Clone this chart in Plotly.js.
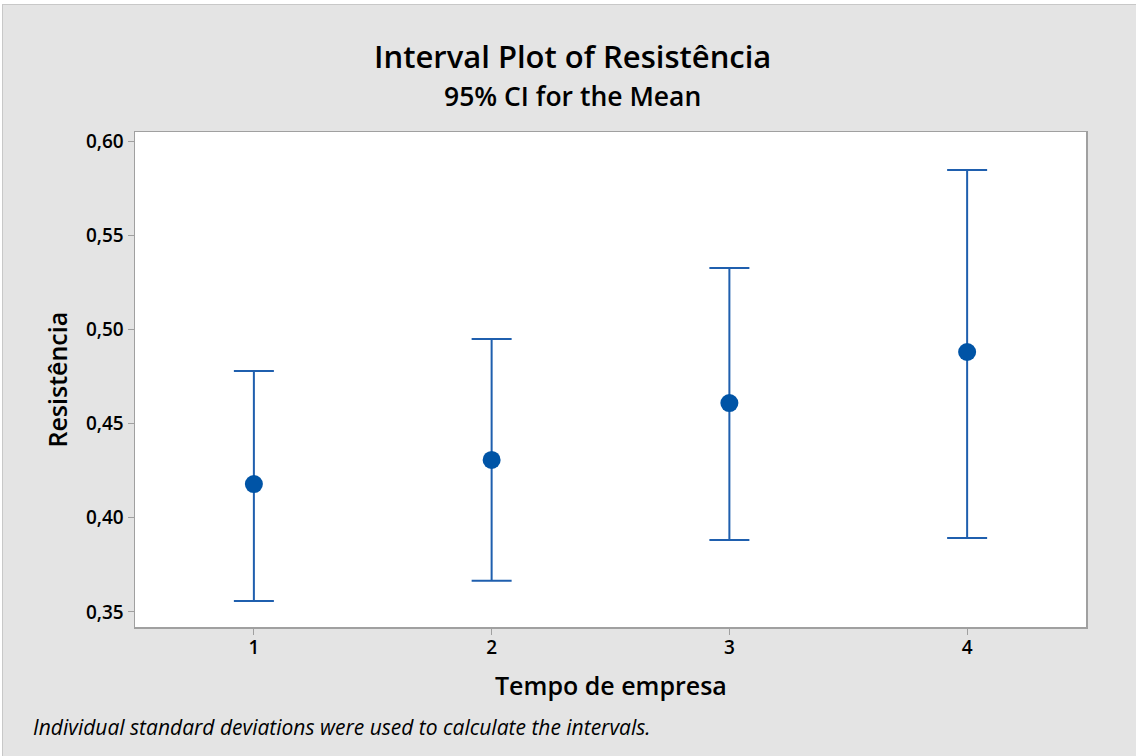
<!DOCTYPE html>
<html><head><meta charset="utf-8">
<script src="https://cdn.plot.ly/plotly-3.0.1.min.js"></script>
<style>
html,body{margin:0;padding:0;background:#fff;}
#chart{position:absolute;left:3px;top:5px;width:1133px;height:751px;}
#frame{position:absolute;left:2px;top:4px;width:1134px;height:752px;border-left:1px solid #c8c8c8;border-top:2px solid #c8c8c8;box-sizing:border-box;}
</style></head>
<body>
<div id="frame"></div>
<div id="chart"></div>
<script>
const categories = [1, 2, 3, 4];
const means = [0.4179, 0.4307, 0.4609, 0.4880];
const upper = [0.4779, 0.4949, 0.5326, 0.5846];
const lower = [0.3558, 0.3665, 0.3882, 0.3893];
const yTicks = [0.35, 0.40, 0.45, 0.50, 0.55, 0.60];

const errPlus = upper.map((u, i) => u - means[i]);
const errMinus = lower.map((l, i) => means[i] - l);

const font = '"Open Sans", "Noto Sans", sans-serif';

const trace = {
  type: 'scatter', mode: 'markers',
  x: categories, y: means,
  marker: {color: '#0054a6', size: 18},
  error_y: {type: 'data', symmetric: false, array: errPlus, arrayminus: errMinus,
            color: '#1f5fae', thickness: 2, width: 20},
  hoverinfo: 'x+y'
};

const tickFont = {family: font, size: 19, color: '#000', weight: 600};

const layout = {
  width: 1133, height: 751,
  paper_bgcolor: '#e4e4e4', plot_bgcolor: '#ffffff',
  margin: {l: 132, r: 50, t: 127, b: 129},
  separators: ',.',
  showlegend: false,
  font: {family: font, color: '#000'},
  xaxis: {
    range: [0.5, 4.5], tickvals: categories, ticktext: categories.map(String),
    showgrid: false, zeroline: false,
    showline: true, mirror: true, linecolor: '#a0a0a0', linewidth: 1.5,
    ticks: 'outside', ticklen: 6, tickcolor: '#a0a0a0', tickwidth: 1,
    ticklabelstandoff: -3,
    tickfont: tickFont
  },
  yaxis: {
    range: [0.342, 0.6048], tickvals: yTicks, tickformat: '.2f',
    showgrid: false, zeroline: false,
    showline: true, mirror: true, linecolor: '#a0a0a0', linewidth: 1.5,
    ticks: 'outside', ticklen: 6, tickcolor: '#a0a0a0', tickwidth: 1,
    tickfont: tickFont
  },
  annotations: [
    {text: 'Interval Plot of Resistência', xref: 'paper', yref: 'paper',
     x: 0.5, xshift: -38, y: 1, yshift: 76, xanchor: 'center', yanchor: 'middle', showarrow: false,
     font: {family: font, size: 31, color: '#000', weight: 600}},
    {text: '95% CI for the Mean', xref: 'paper', yref: 'paper',
     x: 0.5, xshift: -38, y: 1, yshift: 36, xanchor: 'center', yanchor: 'middle', showarrow: false,
     font: {family: font, size: 26.5, color: '#000', weight: 600}},
    {text: 'Resistência', xref: 'paper', yref: 'paper',
     x: 0, xshift: -79, y: 0.5, xanchor: 'center', yanchor: 'middle', textangle: -90, showarrow: false,
     font: {family: font, size: 25, color: '#000', weight: 600}},
    {text: 'Tempo de empresa', xref: 'paper', yref: 'paper',
     x: 0.5, y: 0, yshift: -58, xanchor: 'center', yanchor: 'middle', showarrow: false,
     font: {family: font, size: 25, color: '#000', weight: 600}},
    {text: '<i>Individual standard deviations were used to calculate the intervals.</i>', xref: 'paper', yref: 'paper',
     x: 0, xshift: -104, y: 0, yshift: -100, xanchor: 'left', yanchor: 'middle', showarrow: false,
     font: {family: font, size: 21, color: '#000'}}
  ]
};

Plotly.newPlot('chart', [trace], layout, {displayModeBar: false, staticPlot: true});
</script>
</body></html>
